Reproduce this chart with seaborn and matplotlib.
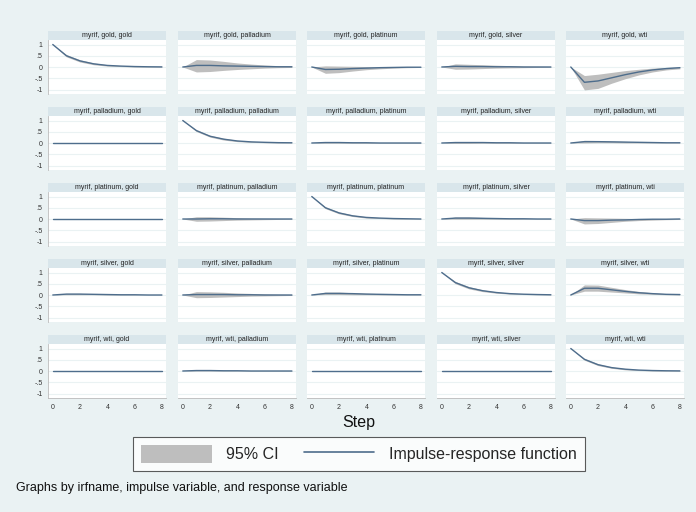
import numpy as np
import pandas as pd
import matplotlib
matplotlib.use("Agg")
import matplotlib.pyplot as plt
import seaborn as sns
from matplotlib.patches import Patch
from matplotlib.lines import Line2D

# impulse-response data (steps 0..8)
steps = [0, 1, 2, 3, 4, 5, 6, 7, 8]
variables = ["gold", "palladium", "platinum", "silver", "wti"]

# rows: impulse variable, inner lists: response gold, palladium, platinum, silver, wti
irf_gold = [
    [1.0, 0.50, 0.27, 0.14, 0.07, 0.04, 0.02, 0.01, 0.005],
    [0.0, 0.07, 0.07, 0.05, 0.04, 0.03, 0.02, 0.01, 0.01],
    [0.0, -0.11, -0.10, -0.07, -0.05, -0.03, -0.02, -0.01, -0.01],
    [0.0, 0.03, 0.02, 0.02, 0.01, 0.01, 0.0, 0.0, 0.0],
    [0.0, -0.68, -0.62, -0.48, -0.34, -0.22, -0.13, -0.07, -0.03],
]
lo_gold = [
    [1.0, 0.45, 0.22, 0.10, 0.04, 0.02, 0.0, -0.005, -0.01],
    [0.0, -0.22, -0.20, -0.15, -0.11, -0.08, -0.05, -0.03, -0.02],
    [0.0, -0.28, -0.25, -0.18, -0.12, -0.08, -0.05, -0.03, -0.02],
    [0.0, -0.10, -0.09, -0.07, -0.05, -0.04, -0.03, -0.02, -0.01],
    [0.0, -1.02, -0.95, -0.72, -0.52, -0.35, -0.22, -0.13, -0.08],
]
hi_gold = [
    [1.0, 0.55, 0.32, 0.18, 0.10, 0.06, 0.04, 0.025, 0.02],
    [0.0, 0.33, 0.31, 0.25, 0.18, 0.13, 0.09, 0.06, 0.04],
    [0.0, 0.05, 0.04, 0.03, 0.02, 0.01, 0.01, 0.01, 0.0],
    [0.0, 0.14, 0.12, 0.10, 0.08, 0.06, 0.04, 0.03, 0.02],
    [0.0, -0.38, -0.32, -0.24, -0.16, -0.10, -0.05, -0.02, 0.0],
]

irf_palladium = [
    [0.0, 0.0, 0.0, 0.0, 0.0, 0.0, 0.0, 0.0, 0.0],
    [1.0, 0.55, 0.30, 0.17, 0.09, 0.05, 0.03, 0.015, 0.01],
    [0.0, 0.02, 0.02, 0.01, 0.01, 0.0, 0.0, 0.0, 0.0],
    [0.0, 0.02, 0.02, 0.02, 0.01, 0.01, 0.0, 0.0, 0.0],
    [0.0, 0.06, 0.06, 0.05, 0.04, 0.03, 0.02, 0.01, 0.01],
]
lo_palladium = [
    [0.0, -0.01, -0.01, -0.01, -0.01, -0.01, -0.01, -0.01, -0.01],
    [1.0, 0.51, 0.26, 0.13, 0.06, 0.03, 0.01, 0.0, 0.0],
    [0.0, -0.01, -0.01, -0.01, -0.01, -0.01, -0.01, -0.01, -0.01],
    [0.0, -0.02, -0.02, -0.01, -0.01, -0.01, -0.01, -0.01, -0.01],
    [0.0, 0.0, 0.01, 0.01, 0.0, 0.0, 0.0, 0.0, 0.0],
]
hi_palladium = [
    [0.0, 0.01, 0.01, 0.01, 0.01, 0.01, 0.01, 0.01, 0.01],
    [1.0, 0.59, 0.34, 0.21, 0.12, 0.07, 0.05, 0.03, 0.02],
    [0.0, 0.05, 0.05, 0.03, 0.03, 0.01, 0.01, 0.01, 0.01],
    [0.0, 0.06, 0.06, 0.05, 0.03, 0.03, 0.01, 0.01, 0.01],
    [0.0, 0.12, 0.11, 0.09, 0.07, 0.05, 0.03, 0.02, 0.02],
]

irf_platinum = [
    [0.0, 0.0, 0.0, 0.0, 0.0, 0.0, 0.0, 0.0, 0.0],
    [0.0, 0.0, 0.01, 0.01, 0.0, 0.0, 0.0, 0.0, 0.0],
    [1.0, 0.50, 0.27, 0.14, 0.07, 0.04, 0.02, 0.01, 0.0],
    [0.0, 0.04, 0.04, 0.03, 0.02, 0.01, 0.01, 0.0, 0.0],
    [0.0, -0.07, -0.07, -0.05, -0.04, -0.02, -0.01, -0.01, 0.0],
]
lo_platinum = [
    [0.0, -0.01, -0.01, -0.01, -0.01, -0.01, -0.01, -0.01, -0.01],
    [0.0, -0.10, -0.09, -0.07, -0.05, -0.04, -0.03, -0.02, -0.01],
    [1.0, 0.46, 0.23, 0.11, 0.04, 0.02, 0.0, -0.005, -0.01],
    [0.0, -0.01, -0.01, -0.01, -0.01, -0.01, -0.01, -0.01, -0.01],
    [0.0, -0.22, -0.20, -0.15, -0.10, -0.07, -0.05, -0.03, -0.02],
]
hi_platinum = [
    [0.0, 0.01, 0.01, 0.01, 0.01, 0.01, 0.01, 0.01, 0.01],
    [0.0, 0.10, 0.10, 0.08, 0.06, 0.04, 0.03, 0.02, 0.01],
    [1.0, 0.54, 0.31, 0.18, 0.10, 0.06, 0.04, 0.02, 0.01],
    [0.0, 0.09, 0.09, 0.07, 0.05, 0.03, 0.02, 0.01, 0.01],
    [0.0, 0.06, 0.05, 0.04, 0.03, 0.02, 0.01, 0.01, 0.01],
]

irf_silver = [
    [0.0, 0.04, 0.04, 0.03, 0.02, 0.01, 0.01, 0.0, 0.0],
    [0.0, 0.02, 0.02, 0.02, 0.01, 0.01, 0.0, 0.0, 0.0],
    [0.0, 0.07, 0.07, 0.06, 0.04, 0.03, 0.02, 0.01, 0.01],
    [1.0, 0.55, 0.32, 0.19, 0.11, 0.06, 0.035, 0.02, 0.01],
    [0.0, 0.30, 0.30, 0.23, 0.16, 0.10, 0.06, 0.03, 0.02],
]
lo_silver = [
    [0.0, 0.01, 0.01, 0.01, 0.0, 0.0, 0.0, 0.0, 0.0],
    [0.0, -0.12, -0.11, -0.09, -0.07, -0.05, -0.04, -0.03, -0.02],
    [0.0, 0.02, 0.02, 0.01, 0.01, 0.0, 0.0, 0.0, 0.0],
    [1.0, 0.50, 0.27, 0.15, 0.08, 0.04, 0.02, 0.01, 0.0],
    [0.0, 0.17, 0.17, 0.13, 0.09, 0.05, 0.03, 0.01, 0.0],
]
hi_silver = [
    [0.0, 0.07, 0.07, 0.05, 0.04, 0.03, 0.02, 0.01, 0.01],
    [0.0, 0.15, 0.14, 0.12, 0.09, 0.07, 0.05, 0.03, 0.02],
    [0.0, 0.13, 0.13, 0.10, 0.08, 0.06, 0.04, 0.03, 0.02],
    [1.0, 0.60, 0.37, 0.23, 0.14, 0.09, 0.05, 0.03, 0.02],
    [0.0, 0.45, 0.44, 0.34, 0.24, 0.16, 0.10, 0.06, 0.04],
]

irf_wti = [
    [0.0, 0.0, 0.0, 0.0, 0.0, 0.0, 0.0, 0.0, 0.0],
    [0.0, 0.02, 0.02, 0.01, 0.01, 0.0, 0.0, 0.0, 0.0],
    [0.0, 0.0, 0.0, 0.0, 0.0, 0.0, 0.0, 0.0, 0.0],
    [0.0, 0.0, 0.0, 0.0, 0.0, 0.0, 0.0, 0.0, 0.0],
    [1.0, 0.52, 0.28, 0.15, 0.08, 0.04, 0.02, 0.01, 0.005],
]
lo_wti = [
    [0.0, -0.01, -0.01, -0.01, -0.01, -0.01, -0.01, -0.01, -0.01],
    [0.0, 0.0, 0.0, 0.0, 0.0, -0.01, -0.01, -0.01, -0.01],
    [0.0, -0.01, -0.01, -0.01, -0.01, -0.01, -0.01, -0.01, -0.01],
    [0.0, -0.01, -0.01, -0.01, -0.01, -0.01, -0.01, -0.01, -0.01],
    [1.0, 0.48, 0.24, 0.12, 0.05, 0.02, 0.0, -0.005, -0.01],
]
hi_wti = [
    [0.0, 0.01, 0.01, 0.01, 0.01, 0.01, 0.01, 0.01, 0.01],
    [0.0, 0.04, 0.04, 0.03, 0.02, 0.01, 0.01, 0.01, 0.01],
    [0.0, 0.01, 0.01, 0.01, 0.01, 0.01, 0.01, 0.01, 0.01],
    [0.0, 0.01, 0.01, 0.01, 0.01, 0.01, 0.01, 0.01, 0.01],
    [1.0, 0.56, 0.32, 0.18, 0.11, 0.06, 0.04, 0.02, 0.02],
]

yticks = [-1, -0.5, 0, 0.5, 1]
ytick_labels = ["-1", "-.5", "0", ".5", "1"]
xticks = [0, 2, 4, 6, 8]

# long table for plotting
irf_all = {"gold": irf_gold, "palladium": irf_palladium, "platinum": irf_platinum,
           "silver": irf_silver, "wti": irf_wti}
lo_all = {"gold": lo_gold, "palladium": lo_palladium, "platinum": lo_platinum,
          "silver": lo_silver, "wti": lo_wti}
hi_all = {"gold": hi_gold, "palladium": hi_palladium, "platinum": hi_platinum,
          "silver": hi_silver, "wti": hi_wti}
rows = []
for imp in variables:
    for j, resp in enumerate(variables):
        for k, s in enumerate(steps):
            rows.append({"impulse": imp, "response": resp, "step": s,
                         "irf": irf_all[imp][j][k], "lo": lo_all[imp][j][k],
                         "hi": hi_all[imp][j][k]})
df = pd.DataFrame(rows)

sns.set_style("white")
plt.rcParams['font.family'] = ['Liberation Sans', 'DejaVu Sans']

BG = '#EAF2F3'
BAR = '#D9E6EB'
LINE = '#4E6D8C'
CI = '#BEBEBE'

W, H = 696, 512
fig = plt.figure(figsize=(W / 100, H / 100), dpi=100, facecolor=BG)

col_left = [48, 178, 307, 437, 566]
panel_w = 118
title_top = 31
title_h = 9
plot_h = 54
row_step = 76

for r, imp in enumerate(variables):
    for c, resp in enumerate(variables):
        top = title_top + r * row_step
        left = col_left[c]
        # title bar
        tax = fig.add_axes([left / W, 1 - (top + title_h) / H, panel_w / W, title_h / H])
        tax.set_facecolor(BAR)
        tax.set_xticks([])
        tax.set_yticks([])
        for sp in tax.spines.values():
            sp.set_visible(False)
        tax.text(0.5, 0.5, f"myrif, {imp}, {resp}", ha='center', va='center',
                 fontsize=5, color='#222222', transform=tax.transAxes)

        ax = fig.add_axes([left / W, 1 - (top + title_h + plot_h) / H, panel_w / W, plot_h / H])
        ax.set_facecolor('white')
        sub = df[(df.impulse == imp) & (df.response == resp)]
        ax.fill_between(sub["step"], sub["lo"], sub["hi"], color=CI, lw=0)
        sns.lineplot(data=sub, x="step", y="irf", ax=ax, color=LINE, lw=1.0)
        ax.set_xlim(-0.35, 8.3)
        ax.set_ylim(-1.2, 1.2)
        ax.set_yticks(yticks)
        ax.set_xticks(xticks)
        ax.grid(axis='y', color=BG, lw=0.8)
        ax.set_axisbelow(True)
        ax.set_xlabel("")
        ax.set_ylabel("")
        for sp in ax.spines.values():
            sp.set_visible(False)
        ax.tick_params(length=0, labelsize=5, colors='#333333', pad=2)
        if c == 0:
            ax.spines['left'].set_visible(True)
            ax.spines['left'].set_color('#BBBBBB')
            ax.spines['left'].set_linewidth(0.6)
            ax.set_yticklabels(ytick_labels)
            ax.tick_params(axis='y', length=2, width=0.5, direction='out')
        else:
            ax.set_yticklabels([])
        if r == len(variables) - 1:
            ax.spines['bottom'].set_visible(True)
            ax.spines['bottom'].set_color('#BBBBBB')
            ax.spines['bottom'].set_linewidth(0.6)
            ax.tick_params(axis='x', length=2, width=0.5, direction='out')
        else:
            ax.set_xticklabels([])

fig.text(359 / W, 1 - 422 / H, "Step", ha='center', va='center', fontsize=11.5, color='#111111')

handles = [Patch(facecolor=CI, edgecolor='none'), Line2D([0], [0], color=LINE, lw=1.2)]
leg = fig.legend(handles, ["95% CI", "Impulse-response function"], loc='center',
                 bbox_to_anchor=(359 / W, 1 - 454 / H), ncol=2, fontsize=11.5,
                 frameon=True, fancybox=False, edgecolor='#333333', facecolor='white',
                 handlelength=4.4, handleheight=1.4, columnspacing=1.6, handletextpad=0.9,
                 borderpad=0.5)
leg.get_frame().set_linewidth(0.8)

fig.text(16 / W, 1 - 488 / H, "Graphs by irfname, impulse variable, and response variable",
         ha='left', va='center', fontsize=9, color='#111111')

fig.savefig("out.png", dpi=100, facecolor=BG)
